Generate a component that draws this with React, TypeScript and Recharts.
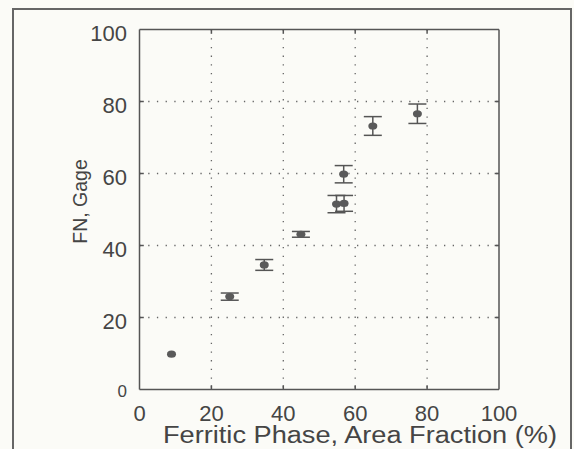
import React from "react";
import {
  ScatterChart,
  Scatter,
  XAxis,
  YAxis,
  CartesianGrid,
  ErrorBar,
  ReferenceLine,
} from "recharts";

const ferriteArea = [8.9, 25.1, 34.7, 44.9, 54.8, 56.9, 56.8, 64.9, 77.3];
const fnGage = [9.8, 25.8, 34.6, 43.1, 51.5, 51.7, 59.8, 73.2, 76.6];
const fnErr = [0, 1, 1.5, 0.8, 2.4, 2.2, 2.4, 2.6, 2.7];

const xTicks = [0, 20, 40, 60, 80, 100];
const yTicks = [0, 20, 40, 60, 80, 100];
const innerTicks = [20, 40, 60, 80];

const xLabel = "Ferritic Phase, Area Fraction (%)";
const yLabel = "FN, Gage";

const data = ferriteArea.map((x, i) => ({ x, y: fnGage[i], err: fnErr[i] }));

const TEXT = "#454545";
const LINE = "#555";
const FONT = "'Liberation Sans', Arial, sans-serif";

const Marker = (props: any) => {
  const { cx, cy } = props;
  if (cx == null || cy == null) return null;
  return <ellipse cx={cx} cy={cy} rx={4.5} ry={3.6} fill="#5a5a5a" />;
};

const YTick = (props: any) => {
  const { x, y, payload } = props;
  const isZero = payload.value === 0;
  return (
    <text
      x={x - 4.5}
      y={y + (isZero ? 7.5 : 11.3)}
      textAnchor="end"
      fontSize={isZero ? 17 : 22}
      fill={TEXT}
      fontFamily={FONT}
    >
      {payload.value}
    </text>
  );
};

const XTick = (props: any) => {
  const { x, y, payload } = props;
  return (
    <text
      x={x}
      y={y + 23.5}
      textAnchor="middle"
      fontSize={22}
      fill={TEXT}
      fontFamily={FONT}
    >
      {payload.value}
    </text>
  );
};

export default function App() {
  return (
    <div
      style={{
        position: "absolute",
        left: 0,
        top: 0,
        width: 574,
        height: 449,
        background: "#fbfbf7",
        overflow: "hidden",
      }}
    >
      <div
        style={{
          position: "absolute",
          left: 12,
          top: 8,
          width: 556,
          height: 460,
          borderLeft: "2px solid #666",
          borderTop: "2px solid #666",
          borderRight: "2px solid #666",
        }}
      />
      <div style={{ position: "absolute", left: 0, top: 0 }}>
        <ScatterChart
          width={574}
          height={449}
          margin={{ top: 29.5, left: 79.5, right: 75, bottom: 29.5 }}
        >
          <CartesianGrid
            horizontalValues={innerTicks}
            verticalValues={innerTicks}
            stroke="#666"
            strokeWidth={1.3}
            strokeDasharray="1.3 7.4"
          />
          <XAxis
            type="number"
            dataKey="x"
            domain={[0, 100]}
            ticks={xTicks}
            tick={<XTick />}
            tickLine={false}
            axisLine={{ stroke: LINE, strokeWidth: 1.5 }}
            height={30}
            allowDataOverflow
          />
          <YAxis
            type="number"
            dataKey="y"
            domain={[0, 100]}
            ticks={yTicks}
            tick={<YTick />}
            tickLine={false}
            axisLine={{ stroke: LINE, strokeWidth: 1.5 }}
            width={60}
            allowDataOverflow
          />
          <ReferenceLine y={100} stroke={LINE} strokeWidth={1.5} />
          <ReferenceLine x={100} stroke={LINE} strokeWidth={1.5} />
          {innerTicks.map((t) => (
            <ReferenceLine
              key={"xb" + t}
              segment={[
                { x: t, y: 0 },
                { x: t, y: 1.2 },
              ]}
              stroke={LINE}
              strokeWidth={1.5}
            />
          ))}
          {innerTicks.map((t) => (
            <ReferenceLine
              key={"xt" + t}
              segment={[
                { x: t, y: 100 },
                { x: t, y: 98.8 },
              ]}
              stroke={LINE}
              strokeWidth={1.5}
            />
          ))}
          {innerTicks.map((t) => (
            <ReferenceLine
              key={"yl" + t}
              segment={[
                { x: 0, y: t },
                { x: 1.2, y: t },
              ]}
              stroke={LINE}
              strokeWidth={1.5}
            />
          ))}
          {innerTicks.map((t) => (
            <ReferenceLine
              key={"yr" + t}
              segment={[
                { x: 100, y: t },
                { x: 98.8, y: t },
              ]}
              stroke={LINE}
              strokeWidth={1.5}
            />
          ))}
          <Scatter data={data} shape={<Marker />} isAnimationActive={false}>
            <ErrorBar
              dataKey="err"
              direction="y"
              width={9}
              stroke={LINE}
              strokeWidth={1.5}
              isAnimationActive={false}
            />
          </Scatter>
        </ScatterChart>
      </div>
      <svg
        width={574}
        height={449}
        style={{ position: "absolute", left: 0, top: 0, pointerEvents: "none" }}
      >
        <text
          x={86.5}
          y={201.5}
          transform="rotate(-90 86.5 201.5)"
          textAnchor="middle"
          fontSize={19.5}
          fill={TEXT}
          fontFamily={FONT}
        >
          {yLabel}
        </text>
        <text
          x={163}
          y={443}
          fontSize={23.5}
          fill={TEXT}
          fontFamily={FONT}
          textLength={394}
          lengthAdjust="spacingAndGlyphs"
        >
          {xLabel}
        </text>
      </svg>
    </div>
  );
}
